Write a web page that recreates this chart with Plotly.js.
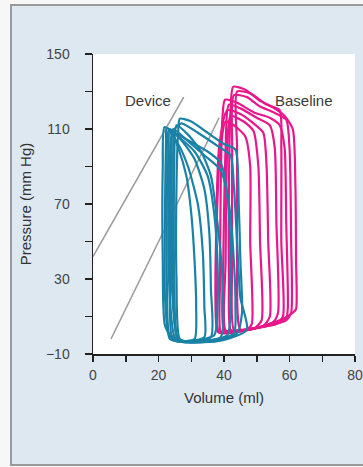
<!DOCTYPE html>
<html>
<head>
<meta charset="utf-8">
<script src="https://cdn.plot.ly/plotly-3.0.1.min.js"></script>
<style>
html,body{margin:0;padding:0;background:#f7f7f7;width:363px;height:467px;overflow:hidden;}
#panel{position:absolute;left:10px;top:4px;width:420px;height:462px;background:#dde8f1;border:2px solid #9a9a9a;box-sizing:border-box;}
#chart{position:absolute;left:0;top:0;width:363px;height:467px;}
</style>
</head>
<body>
<div id="panel"></div>
<div id="chart"></div>
<script>
// Axis ticks
var xTickVals = [0,10,20,30,40,50,60,70,80];
var xTickText = ["0","","20","","40","","60","","80"];
var yTickVals = [-10,10,30,50,70,90,110,130,150];
var yTickText = ["\u221210","","30","","70","","110","","150"];

// ESPVR lines (Volume, Pressure)
var deviceLineX = [0, 27.7];
var deviceLineY = [42, 127];
var baselineLineX = [5.5, 38.5];
var baselineLineY = [-2, 116];

// Device PV loops (teal)
var deviceLoopsX = [
  [44,38,30,26.5,25.5,25.5,26,26.5,30,35,40,43.5,44.5,45,45.5,44],
  [41,32,25,22,21.3,21.3,21.8,24,29,35,39,41,42,42,41],
  [37,28,23.5,22,22,22.3,22.5,26,31,35,37,38,38,37],
  [34,27,23.5,22.6,22.6,23,26,29,32,33.5,34,34],
  [31,26,24,23.5,23.5,24,26,28.5,30,31,31.5,31],
  [47,40,31,26,24.5,24.5,25,27,32,38,42,43,44,45,47],
  [39,31,26,24.8,24.8,25.5,29,33,36,38,39.5,39],
  [43,35,27,25.5,24,24,24.5,28,34,39,41.5,43,43.5,43],
  [36,29,25,23.2,23.2,23.5,27,31,34,35.5,36,36]
];
var deviceLoopsY = [
  [1,-3,-3.8,-2,30,80,108,115.5,114,108,102,99,70,40,12,1],
  [0,-3.5,-3,5,40,90,111,109,104,98,92,75,45,15,0],
  [0,-3.5,-2,20,70,104,110.5,106,98,85,65,40,15,0],
  [-1,-3.5,-1.5,25,80,109,102,90,70,45,15,-1],
  [-2,-3,0,30,85,108,100,85,65,40,15,-2],
  [3,-2.5,-3.8,-2.5,20,80,110,113,108,101,96,80,50,20,3],
  [-1,-3.5,-2,30,90,112,107,98,85,60,30,-1],
  [1,-3,-3.5,0,30,90,110,105,96,88,70,40,15,1],
  [-1,-3.5,-1,30,90,110,104,94,78,55,25,-1]
];

// Baseline PV loops (magenta)
var baselineLoopsX = [
  [62,61,57,50,44,42,41.5,41.5,42,42.8,46.5,51,55,58.5,61,61.8,62,62],
  [59.5,59,55,48,41,39,38.8,39,39.5,40.3,44,49,54,57,58.5,59,59.5],
  [56.5,55,50,43,40,39.8,40.5,41.5,45,50,54,55.5,56,56.5],
  [54,52,46,40,38,37.5,38.5,41,45,49,52,53,53.5,54],
  [51.5,49.5,44,40.5,40.5,41,42,46,49,50.5,51,51.5],
  [60.5,59,53,46,43,42.5,42.5,43,47,51,55,59,60,60.5,60.5],
  [48.5,47,42,38.5,37.5,38.5,40.5,43,46.5,48,48,48.5],
  [58,56,50,45,44,44,44,48,53,57,57.5,57.5,58]
];
var baselineLoopsY = [
  [14,12,8,4,2.5,3,30,80,120,132.5,131,125,121.5,117,110,80,40,14],
  [15,9,6,3,1.5,2,30,80,115,125.6,124,119,116,112,100,60,15],
  [12,7,4,2,2.5,40,100,123,121,116,112,100,60,12],
  [10,5,2.5,1,2,40,100,120,118,113,108,90,50,10],
  [8,4,2,2.5,40,100,117,114,109,90,50,8],
  [12,8,5,3,3,40,100,128,127,122,119,115,100,50,12],
  [6,3,1.5,1.5,30,90,114,112,106,90,50,6],
  [10,6,4,3,40,100,130,129,123,120,100,50,10]
];

var teal = "#1a82a6";
var magenta = "#e8178c";
var traces = [];

traces.push({x: deviceLineX, y: deviceLineY, mode: "lines", line: {color: "#9c9c9c", width: 1.6}, hoverinfo: "skip"});
traces.push({x: baselineLineX, y: baselineLineY, mode: "lines", line: {color: "#9c9c9c", width: 1.6}, hoverinfo: "skip"});

for (var i = 0; i < baselineLoopsX.length; i++) {
  traces.push({x: baselineLoopsX[i], y: baselineLoopsY[i], mode: "lines",
    line: {color: magenta, width: 2.2, shape: "spline", smoothing: 0.6}, hoverinfo: "skip"});
}
for (var j = 0; j < deviceLoopsX.length; j++) {
  traces.push({x: deviceLoopsX[j], y: deviceLoopsY[j], mode: "lines",
    line: {color: teal, width: 2.2, shape: "spline", smoothing: 0.6}, hoverinfo: "skip"});
}

var fontFam = "Liberation Sans, Arial, sans-serif";
var layout = {
  width: 363, height: 467,
  margin: {l: 93, r: 8, t: 54, b: 113},
  paper_bgcolor: "rgba(0,0,0,0)",
  plot_bgcolor: "#ffffff",
  showlegend: false,
  font: {family: fontFam, color: "#333333", size: 13},
  xaxis: {
    range: [0, 80], tickmode: "array", tickvals: xTickVals, ticktext: xTickText,
    ticks: "outside", ticklen: 6, tickwidth: 1.5, tickcolor: "#222",
    showline: true, linecolor: "#222", linewidth: 1.5, showgrid: false, zeroline: false,
    tickfont: {size: 14, color: "#444"}, ticklabelstandoff: 2,
    title: {text: "Volume (ml)", font: {size: 15, color: "#333"}, standoff: 10}
  },
  yaxis: {
    range: [-10, 150], tickmode: "array", tickvals: yTickVals, ticktext: yTickText,
    ticks: "outside", ticklen: 7, tickwidth: 1.5, tickcolor: "#222",
    showline: true, linecolor: "#222", linewidth: 1.5, showgrid: false, zeroline: false,
    tickfont: {size: 14, color: "#444"}, ticklabelstandoff: 12,
    title: {text: "Pressure (mm Hg)", font: {size: 15, color: "#333"}, standoff: 10}
  },
  annotations: [
    {x: 16.7, y: 125.3, xref: "x", yref: "y", text: "Device", showarrow: false,
     font: {size: 15, color: "#3a3a3a", family: fontFam}},
    {x: 64.4, y: 125.3, xref: "x", yref: "y", text: "Baseline", showarrow: false,
     font: {size: 15, color: "#3a3a3a", family: fontFam}}
  ]
};

Plotly.newPlot("chart", traces, layout, {displayModeBar: false, staticPlot: true});
</script>
</body>
</html>
